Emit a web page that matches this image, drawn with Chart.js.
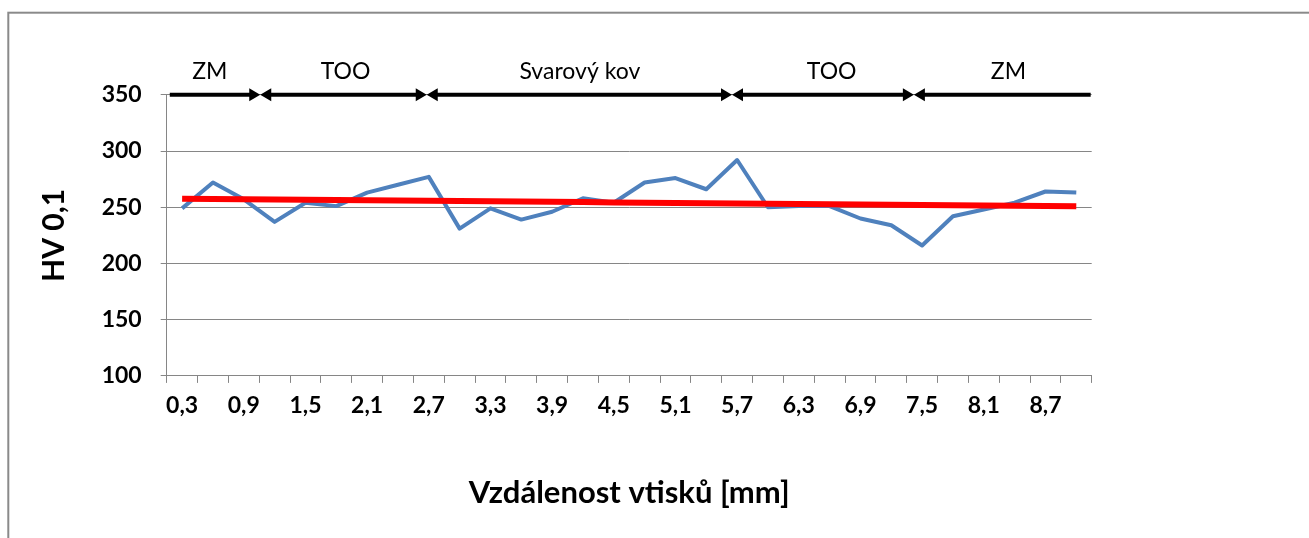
<!DOCTYPE html>
<html lang="cs">
<head>
<meta charset="utf-8">
<title>Průběh tvrdosti HV 0,1</title>
<script src="https://cdn.jsdelivr.net/npm/chart.js@4/dist/chart.umd.min.js"></script>
<style>
  html, body { margin: 0; padding: 0; background: #fff; }
  #wrap { width: 1309px; height: 538px; }
</style>
</head>
<body>
<div id="wrap"><canvas id="c" width="1309" height="538"></canvas></div>
<script>
// Vzdálenost vtisků [mm] – kategorie osy x
const distances = ['0,3','0,6','0,9','1,2','1,5','1,8','2,1','2,4','2,7','3,0',
                   '3,3','3,6','3,9','4,2','4,5','4,8','5,1','5,4','5,7','6,0',
                   '6,3','6,6','6,9','7,2','7,5','7,8','8,1','8,4','8,7','9,0'];

// Naměřená tvrdost HV 0,1
const hardness = [249, 272, 257, 237, 254, 251, 263, 270, 277, 231,
                  249, 239, 246, 258, 254, 272, 276, 266, 292, 250,
                  251, 251, 240, 234, 216, 242, 248, 254, 264, 263];

// Oblasti svarového spoje (hranice a středy popisků v mm)
const zoneNames   = ['ZM', 'TOO', 'Svarový kov', 'TOO', 'ZM'];
const zoneEdgesMm = [0.18, 1.06, 2.68, 5.65, 7.42, 9.14];
const zoneLabelMm = [0.57, 1.89, 4.17, 6.62, 8.34];

// Osa y
const yMin = 100, yMax = 350, yStep = 50;

// Lineární spojnice trendu (metoda nejmenších čtverců)
function linearTrend(values) {
  const n = values.length;
  let sx = 0, sy = 0, sxy = 0, sxx = 0;
  values.forEach((v, i) => { sx += i; sy += v; sxy += i * v; sxx += i * i; });
  const k = (n * sxy - sx * sy) / (n * sxx - sx * sx);
  const q = (sy - k * sx) / n;
  return values.map((_, i) => q + k * i);
}
const trend = linearTrend(hardness);

const FONT = 'Lato, "Open Sans", sans-serif';
const GRID = '#868686';

// Rámeček grafu
const framePlugin = {
  id: 'frame',
  beforeDraw(chart) {
    const ctx = chart.ctx;
    ctx.save();
    ctx.fillStyle = '#fff';
    ctx.fillRect(0, 0, chart.width, chart.height);
    ctx.strokeStyle = '#8a8a8a';
    ctx.lineWidth = 2;
    ctx.strokeRect(8.3, 12.7, chart.width + 40, chart.height + 40);
    ctx.restore();
  }
};

// Šipky a popisky oblastí nad grafem
const zonesPlugin = {
  id: 'zones',
  afterDatasetsDraw(chart) {
    const xs = chart.scales.x, ys = chart.scales.y;
    const step = 0.3;
    const px = mm => xs.getPixelForValue(mm / step - 1);
    const yLine = ys.getPixelForValue(yMax);
    const ctx = chart.ctx;
    const headLen = 11, headHalf = 6.5;
    ctx.save();
    ctx.strokeStyle = '#000';
    ctx.fillStyle = '#000';
    ctx.lineWidth = 4;
    const last = zoneNames.length - 1;
    zoneNames.forEach((name, k) => {
      const a = px(zoneEdgesMm[k]), b = px(zoneEdgesMm[k + 1]);
      ctx.beginPath();
      ctx.moveTo(a + (k > 0 ? headLen - 1 : 0), yLine);
      ctx.lineTo(b - (k < last ? headLen - 1 : 0), yLine);
      ctx.stroke();
      if (k > 0) {
        ctx.beginPath();
        ctx.moveTo(a, yLine);
        ctx.lineTo(a + headLen, yLine - headHalf);
        ctx.lineTo(a + headLen, yLine + headHalf);
        ctx.closePath();
        ctx.fill();
      }
      if (k < last) {
        ctx.beginPath();
        ctx.moveTo(b, yLine);
        ctx.lineTo(b - headLen, yLine - headHalf);
        ctx.lineTo(b - headLen, yLine + headHalf);
        ctx.closePath();
        ctx.fill();
      }
    });
    ctx.font = '23px ' + FONT;
    ctx.textAlign = 'center';
    ctx.textBaseline = 'middle';
    zoneNames.forEach((name, k) => {
      ctx.fillText(name, px(zoneLabelMm[k]), yLine - 23);
    });
    ctx.restore();
  }
};

new Chart(document.getElementById('c'), {
  type: 'line',
  data: {
    labels: distances,
    datasets: [
      {
        label: 'Lineární (HV 0,1)',
        data: trend,
        borderColor: '#ff0000',
        borderWidth: 6,
        pointRadius: 0,
        tension: 0,
        order: 0
      },
      {
        label: 'HV 0,1',
        data: hardness,
        borderColor: '#4f81bd',
        borderWidth: 4,
        borderJoinStyle: 'round',
        pointRadius: 0,
        tension: 0,
        order: 1
      }
    ]
  },
  options: {
    responsive: false,
    devicePixelRatio: 1,
    animation: false,
    layout: { padding: { left: 0, top: 94.8, right: 217.3, bottom: 0 } },
    plugins: {
      legend: { display: false },
      tooltip: { enabled: false }
    },
    scales: {
      x: {
        type: 'category',
        offset: true,
        grid: { offset: true, drawOnChartArea: false, drawTicks: true, tickLength: 7, color: GRID },
        border: { color: GRID, width: 1 },
        ticks: {
          autoSkip: false,
          maxRotation: 0,
          padding: 9,
          color: '#000',
          font: { family: FONT, size: 23, weight: 'bold' },
          callback: (v, i) => (i % 2 === 0 ? distances[i] : '')
        },
        title: {
          display: true,
          text: 'Vzdálenost vtisků [mm]',
          color: '#000',
          font: { family: FONT, size: 31, weight: 'bold' },
          padding: { top: 0, bottom: 26.4 }
        },
        afterFit: s => { s.height = 162.1; }
      },
      y: {
        min: yMin,
        max: yMax,
        ticks: {
          stepSize: yStep,
          padding: 19,
          color: '#000',
          font: { family: FONT, size: 23, weight: 'bold' }
        },
        grid: { color: GRID, tickLength: 6 },
        border: { color: GRID, width: 1 },
        title: {
          display: true,
          text: 'HV 0,1',
          color: '#000',
          font: { family: FONT, size: 30, weight: 'bold' },
          padding: { top: 36, bottom: 0 }
        },
        afterFit: s => { s.width = 166.7; }
      }
    }
  },
  plugins: [framePlugin, zonesPlugin]
});
</script>
</body>
</html>
